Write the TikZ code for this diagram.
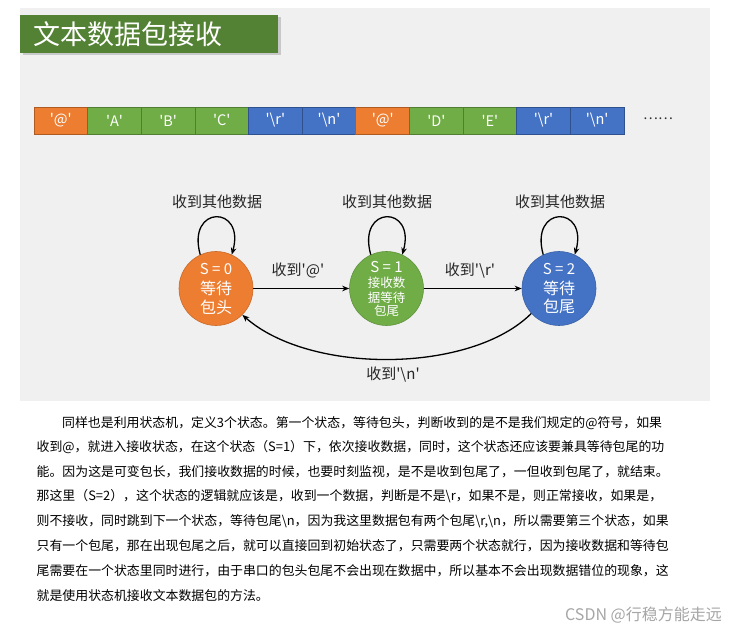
\documentclass[tikz,border=0pt]{standalone}
\usepackage{fontspec}
\setmainfont{Noto Sans CJK SC}
\usetikzlibrary{arrows.meta,shadows}
\XeTeXlinebreaklocale "zh"
\XeTeXlinebreakskip=0pt plus 3pt
\definecolor{bgray}{HTML}{F0F0F0}
\definecolor{tgreen}{HTML}{548235}
\definecolor{cor}{HTML}{ED7D31}
\definecolor{cgr}{HTML}{70AD47}
\definecolor{cbl}{HTML}{4472C4}
\definecolor{bor}{HTML}{AE5A21}
\definecolor{bgr}{HTML}{507E32}
\definecolor{bbl}{HTML}{2F528F}
\newcommand\sq{\textquotesingle}
\newcommand\bs{\textbackslash}
\begin{document}
\begin{tikzpicture}[x=1pt,y=1pt,
  cell/.style={minimum width=53.64pt, minimum height=27pt, inner sep=0pt, text=white,
    font=\fontsize{14.5}{14.5}\selectfont, line width=0.8pt},
  circ/.style={circle, minimum size=74pt, inner sep=0pt, line width=0.6pt},
  intxt/.style={text=white, inner sep=0pt},
  arr/.style={-{Stealth[length=7pt,width=5.5pt]}, line width=1.3pt, black},
  lbl/.style={font=\fontsize{15}{15}\selectfont, text=black!85, inner sep=0pt},
  para/.style={anchor=west, inner sep=0pt, font=\fontsize{12.9}{12.9}\selectfont, text=black}
]
\useasboundingbox (0,0) rectangle (737,635);
\fill[white] (0,0) rectangle (737,635);
\fill[bgray] (20,234) rectangle (710,627);
% title
\node[fill=tgreen, minimum width=258pt, minimum height=38pt, inner sep=0pt, anchor=south west,
  drop shadow={shadow xshift=2.5pt, shadow yshift=-2.5pt, opacity=0.35}] (title) at (20,582) {};
\node[anchor=west, text=white, inner sep=0pt, font=\fontsize{27}{27}\selectfont] (ttext) at (33,601) {文本数据包接收};
% cells
\foreach \i/\t/\f/\d in {0/{\sq @\sq}/cor/bor, 1/{\sq A\sq}/cgr/bgr, 2/{\sq B\sq}/cgr/bgr, 3/{\sq C\sq}/cgr/bgr,
  4/{\sq\bs r\sq}/cbl/bbl, 5/{\sq\bs n\sq}/cbl/bbl, 6/{\sq @\sq}/cor/bor, 7/{\sq D\sq}/cgr/bgr,
  8/{\sq E\sq}/cgr/bgr, 9/{\sq\bs r\sq}/cbl/bbl, 10/{\sq\bs n\sq}/cbl/bbl}
  \node[cell, fill=\f, draw=\d] (c\i) at (34+26.82+53.64*\i,514.5) {\t};
\node[inner sep=0pt, text=black!80, font=\fontsize{14}{14}\selectfont] (dots) at (658,516) {……};
% states
\node[circ, fill=cor, draw=cor!85!black] (s0) at (216,346.5) {};
\node[circ, fill=cgr, draw=cgr!85!black] (s1) at (386.5,346.5) {};
\node[circ, fill=cbl, draw=cbl!85!black] (s2) at (559,346.5) {};
\node[intxt, font=\fontsize{15}{15}\selectfont] (s0a) at ([yshift=19.5pt]s0.center) {S = 0};
\node[intxt, font=\fontsize{16}{16}\selectfont] (s0b) at (s0.center) {等待};
\node[intxt, font=\fontsize{16}{16}\selectfont] (s0c) at ([yshift=-18.5pt]s0.center) {包头};
\node[intxt, font=\fontsize{15}{15}\selectfont] (s1a) at ([yshift=21pt]s1.center) {S = 1};
\node[intxt, font=\fontsize{12.5}{12.5}\selectfont] (s1b) at ([yshift=6pt]s1.center) {接收数};
\node[intxt, font=\fontsize{12.5}{12.5}\selectfont] (s1c) at ([yshift=-9pt]s1.center) {据等待};
\node[intxt, font=\fontsize{12.5}{12.5}\selectfont] (s1d) at ([yshift=-22.5pt]s1.center) {包尾};
\node[intxt, font=\fontsize{15}{15}\selectfont] (s2a) at ([yshift=19pt]s2.center) {S = 2};
\node[intxt, font=\fontsize{16}{16}\selectfont] (s2b) at (s2.center) {等待};
\node[intxt, font=\fontsize{16}{16}\selectfont] (s2c) at ([yshift=-18pt]s2.center) {包尾};
% loops
\draw[arr] (s0.115) .. controls +(-14,50) and +(14,50) .. (s0.65);
\draw[arr] (s1.115) .. controls +(-14,50) and +(14,50) .. (s1.65);
\draw[arr] (s2.115) .. controls +(-14,50) and +(14,50) .. (s2.65);
\node[lbl] (l0) at (217,433) {收到其他数据};
\node[lbl] (l1) at (387,433) {收到其他数据};
\node[lbl] (l2) at (560,433) {收到其他数据};
% transitions
\draw[arr] (s0) -- (s1);
\draw[arr] (s1) -- (s2);
\node[lbl] (t01) at (298,364) {收到\sq @\sq};
\node[lbl] (t12) at (470,364) {收到\sq\bs r\sq};
\draw[arr] (s2.222) .. controls +(-60,-60) and +(68,-60) .. (s0.315);
\node[lbl] (t20) at (393,260) {收到\sq\bs n\sq};
% paragraph
\node[para] (p1) at (62,212) {\makebox[611pt][s]{同样也是利用状态机，定义3个状态。第一个状态，等待包头，判断收到的是不是我们规定的@符号，如果}};
\node[para] (p2) at (36.5,187.5) {\makebox[636.5pt][s]{收到@，就进入接收状态，在这个状态（S=1）下，依次接收数据，同时，这个状态还应该要兼具等待包尾的功}};
\node[para] (p3) at (36.5,163) {\makebox[636.5pt][s]{能。因为这是可变包长，我们接收数据的时候，也要时刻监视，是不是收到包尾了，一但收到包尾了，就结束。}};
\node[para] (p4) at (36.5,138.5) {\makebox[636.5pt][s]{那这里（S=2），这个状态的逻辑就应该是，收到一个数据，判断是不是\bs r，如果不是，则正常接收，如果是，}};
\node[para] (p5) at (36.5,114) {\makebox[636.5pt][s]{则不接收，同时跳到下一个状态，等待包尾\bs n，因为我这里数据包有两个包尾\bs r,\bs n，所以需要第三个状态，如果}};
\node[para] (p6) at (36.5,89) {\makebox[636.5pt][s]{只有一个包尾，那在出现包尾之后，就可以直接回到初始状态了，只需要两个状态就行，因为接收数据和等待包}};
\node[para] (p7) at (36.5,64) {\makebox[636.5pt][s]{尾需要在一个状态里同时进行，由于串口的包头包尾不会出现在数据中，所以基本不会出现数据错位的现象，这}};
\node[para] (p8) at (36.5,39.5) {就是使用状态机接收文本数据包的方法。};
% watermark
\node[anchor=east, inner sep=0pt, text=black!35, font=\fontsize{16}{16}\selectfont] (wm) at (722,20) {CSDN @行稳方能走远};
\end{tikzpicture}
\end{document}
